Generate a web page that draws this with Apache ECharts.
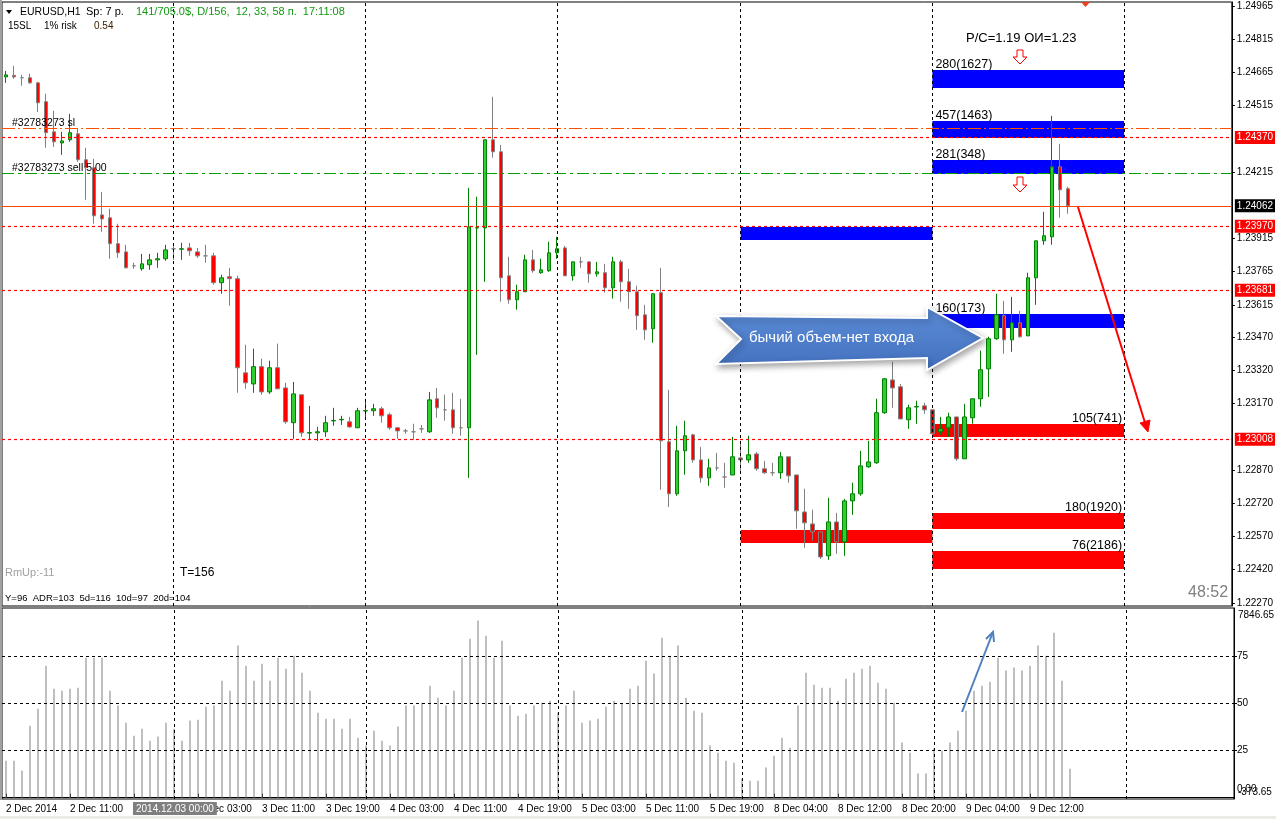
<!DOCTYPE html>
<html><head><meta charset="utf-8">
<script src="https://cdn.jsdelivr.net/npm/echarts@6/dist/echarts.min.js"></script>
<style>html,body{margin:0;padding:0;background:#fff}#c{width:1276px;height:819px}</style>
</head><body><div id="c"></div>
<script>
// ---- data ----
const sessionDays = [['2 Dec',3,23],['3 Dec',0,23],['4 Dec',0,23],['5 Dec',0,22],['8 Dec',0,23],['9 Dec',0,23],['10 Dec',0,13]];
const xTickLabels = ['2 Dec 2014','2 Dec 11:00','2 Dec 19:00','3 Dec 03:00','3 Dec 11:00','3 Dec 19:00','4 Dec 03:00','4 Dec 11:00','4 Dec 19:00','5 Dec 03:00','5 Dec 11:00','5 Dec 19:00','8 Dec 04:00','8 Dec 12:00','8 Dec 20:00','9 Dec 04:00','9 Dec 12:00'];
const priceTicks = [1.22270,1.22420,1.22570,1.22720,1.22870,1.23170,1.23320,1.23470,1.23615,1.23765,1.23915,1.24215,1.24515,1.24665,1.24815,1.24965];
const volTicks = [25,50,75];
const openP = [1.24644,1.24651,1.24640,1.24640,1.24617,1.24532,1.24396,1.24346,1.24360,1.24387,1.24270,1.24234,1.24021,1.24008,1.23891,1.23854,1.23791,1.23778,1.23796,1.23818,1.23823,1.23868,1.23866,1.23872,1.23854,1.23836,1.23836,1.23715,1.23742,1.23733,1.23308,1.23258,1.23336,1.23222,1.23331,1.23240,1.23083,1.23209,1.23036,1.23037,1.23042,1.23091,1.23096,1.23087,1.23060,1.23136,1.23137,1.23146,1.23119,1.23060,1.23046,1.23042,1.23055,1.23042,1.23191,1.23141,1.23141,1.23060,1.23060,1.23962,1.23962,1.24360,1.24306,1.23746,1.23638,1.23674,1.23818,1.23760,1.23769,1.23850,1.23872,1.23746,1.23809,1.23809,1.23755,1.23760,1.23692,1.23809,1.23719,1.23674,1.23570,1.23507,1.23670,1.22997,1.22762,1.22956,1.23028,1.22915,1.22834,1.22879,1.22838,1.22847,1.22924,1.22915,1.22942,1.22875,1.22857,1.22857,1.22929,1.22847,1.22680,1.22626,1.22590,1.22482,1.22635,1.22545,1.22730,1.22762,1.22884,1.22902,1.23128,1.23276,1.23245,1.23096,1.23154,1.23159,1.23141,1.23042,1.23060,1.23109,1.22920,1.23105,1.23191,1.23326,1.23462,1.23566,1.23457,1.23534,1.23475,1.23737,1.23904,1.23922,1.24238,1.24139];
const closeP = [1.24653,1.24644,1.24640,1.24617,1.24527,1.24392,1.24351,1.24355,1.24392,1.24270,1.24234,1.24017,1.24003,1.23891,1.23850,1.23782,1.23791,1.23800,1.23818,1.23823,1.23863,1.23868,1.23868,1.23859,1.23836,1.23836,1.23715,1.23737,1.23733,1.23331,1.23263,1.23336,1.23222,1.23331,1.23236,1.23087,1.23213,1.23037,1.23038,1.23042,1.23083,1.23093,1.23098,1.23064,1.23137,1.23137,1.23146,1.23114,1.23060,1.23046,1.23046,1.23042,1.23055,1.23186,1.23150,1.23141,1.23060,1.23060,1.23967,1.23963,1.24360,1.24306,1.23737,1.23638,1.23674,1.23818,1.23769,1.23773,1.23850,1.23868,1.23746,1.23809,1.23809,1.23755,1.23764,1.23692,1.23809,1.23719,1.23674,1.23566,1.23502,1.23665,1.23001,1.22762,1.22956,1.23024,1.22915,1.22834,1.22879,1.22879,1.22838,1.22929,1.22915,1.22938,1.22875,1.22857,1.22857,1.22929,1.22843,1.22685,1.22631,1.22590,1.22477,1.22635,1.22545,1.22730,1.22762,1.22888,1.22906,1.23128,1.23281,1.23240,1.23100,1.23150,1.23156,1.23141,1.23033,1.23055,1.23109,1.22920,1.23109,1.23191,1.23322,1.23462,1.23570,1.23457,1.23534,1.23471,1.23737,1.23904,1.23927,1.24238,1.24134,1.24062];
const lowP = [1.24617,1.24635,1.24604,1.24613,1.24486,1.24324,1.24328,1.24292,1.24351,1.24261,1.24089,1.23981,1.23945,1.23823,1.23827,1.23780,1.23778,1.23769,1.23773,1.23782,1.23814,1.23818,1.23818,1.23836,1.23827,1.23805,1.23706,1.23665,1.23611,1.23218,1.23236,1.23218,1.23209,1.23213,1.23234,1.23078,1.23010,1.23019,1.23006,1.23001,1.23019,1.23069,1.23073,1.23060,1.23059,1.23100,1.23114,1.23083,1.23051,1.23010,1.23033,1.23006,1.23037,1.23037,1.23105,1.23092,1.23033,1.23024,1.22834,1.23389,1.23719,1.24279,1.23629,1.23620,1.23593,1.23673,1.23760,1.23755,1.23764,1.23823,1.23745,1.23724,1.23782,1.23715,1.23742,1.23670,1.23643,1.23629,1.23597,1.23502,1.23457,1.23444,1.22780,1.22703,1.22753,1.22848,1.22902,1.22812,1.22798,1.22866,1.22789,1.22846,1.22866,1.22902,1.22866,1.22852,1.22843,1.22830,1.22812,1.22604,1.22518,1.22550,1.22468,1.22464,1.22491,1.22482,1.22667,1.22753,1.22879,1.22897,1.23123,1.23150,1.23099,1.23055,1.23078,1.23123,1.23032,1.23028,1.23019,1.22911,1.22919,1.23078,1.23155,1.23199,1.23457,1.23394,1.23403,1.23466,1.23474,1.23615,1.23886,1.23886,1.24008,1.24026];
const highP = [1.24671,1.24694,1.24653,1.24658,1.24622,1.24568,1.24491,1.24396,1.24477,1.24410,1.24324,1.24274,1.24125,1.24049,1.23981,1.23886,1.23805,1.23845,1.23845,1.23850,1.23886,1.23891,1.23895,1.23895,1.23872,1.23886,1.23850,1.23751,1.23782,1.23746,1.23435,1.23417,1.23372,1.23363,1.23440,1.23263,1.23267,1.23211,1.23159,1.23064,1.23114,1.23150,1.23114,1.23109,1.23150,1.23191,1.23168,1.23155,1.23128,1.23064,1.23055,1.23078,1.23073,1.23222,1.23240,1.23209,1.23218,1.23191,1.24143,1.24103,1.24361,1.24554,1.24337,1.23832,1.23706,1.23841,1.23863,1.23823,1.23900,1.23922,1.23881,1.23810,1.23832,1.23810,1.23809,1.23800,1.23832,1.23818,1.23778,1.23701,1.23615,1.23666,1.23782,1.23231,1.23069,1.23092,1.23033,1.22974,1.22920,1.22947,1.22902,1.23019,1.22997,1.23024,1.22951,1.22911,1.22902,1.22951,1.22930,1.22848,1.22785,1.22690,1.22591,1.22744,1.22676,1.22739,1.22812,1.22956,1.23001,1.23191,1.23285,1.23358,1.23258,1.23164,1.23182,1.23173,1.23142,1.23109,1.23128,1.23110,1.23168,1.23192,1.23408,1.23471,1.23665,1.23633,1.23651,1.23588,1.23760,1.23905,1.24035,1.24468,1.24342,1.24148];
const volume = [19.7,19.7,14.4,38.3,47.3,70.2,58,56.9,58,58.5,74.5,74.5,74.5,56.9,49,39.9,33,36.7,30.3,32.5,39.9,36.7,30.3,41,41.5,48.4,49,62.2,56.9,80.9,70.2,62.2,71.3,62.2,74.5,68.6,75.5,66.5,56.9,45.2,42,42,36.7,42,31.9,27.7,35.6,30.3,27.7,37.8,49,49,50.5,59.6,53.2,49,56.9,74.5,84.6,94.2,86.2,74.5,83.5,49,43.6,44.7,49,50.5,51.6,45.2,49,56.9,39.9,41,42,48.4,51.6,50,58,59.6,72.9,66,85.1,75.5,80.9,53.2,46.3,45.2,27.7,23.9,19.7,18.6,10.1,9,9,16,22.3,31.9,26.6,49,66.5,60.1,58.5,58.5,51.6,63.3,66.5,68.6,70.2,61.2,58,50.5,29.3,23.9,12.8,12.8,26.1,25,29.3,35.6,46.3,56.9,59.6,61.7,74.5,67.6,69.2,67.6,70.2,80.9,75.5,87.8,62.2,15.4];
const daySeparators = [21,45,69,92,116,140];
const levelValues = [1.24410,1.24370,1.24208,1.24062,1.23970,1.23681,1.23008];
const levelKinds  = ['sl','alert','sell','bid','alert','alert','alert'];
const zoneFrom   = [116,116,116,92,116,116,116,92,116];
const zoneTo     = [140,140,140,116,140,140,140,116,140];
const zoneTop    = [1.24675,1.24445,1.24269,1.23966,1.23574,1.23077,1.22675,1.22599,1.22504];
const zoneBottom = [1.24594,1.24368,1.24206,1.23908,1.23510,1.23018,1.22603,1.22540,1.22423];
const zoneText   = ['280(1627)','457(1463)','281(348)','','160(173)','105(741)','180(1920)','','76(2186)'];
const zoneSide   = ['buy','buy','buy','buy','buy','sell','sell','sell','sell'];

// ---- build ----
const cats = [];
for (const [d,h0,h1] of sessionDays) for (let h=h0; h<=h1; h++) cats.push(d+' '+String(h).padStart(2,'0')+':00');
const candleData = openP.map((o,i)=>[o, closeP[i], lowP[i], highP[i]]);
const F = '"Liberation Sans", Arial, sans-serif';

const levelStyle = {
  sl:    {color:'#FF5000', type:[13,3,2,3], label:false},
  alert: {color:'#FF0000', type:[3,3], label:'#FF0000'},
  sell:  {color:'#00A000', type:[12,4,3,4], label:false},
  bid:   {color:'#FF4500', type:'solid', label:'#000000'}
};
const levelSeries = levelValues.map((v,i)=>{
  const s = levelStyle[levelKinds[i]];
  return {type:'line', name:'level'+i, xAxisIndex:0, yAxisIndex:0, data:[], silent:true, z:5,
    markLine:{silent:true, symbol:['none','none'], z:5, precision:5, animation:false,
      lineStyle:{color:s.color, type:s.type, width:1.2},
      label: s.label ? {show:true, position:'end', distance:3, formatter:v.toFixed(5), color:'#fff',
        backgroundColor:s.label, padding:[2,2,1,2], fontSize:10, fontFamily:F} : {show:false},
      data:[{yAxis:v}]}};
});
const zones = zoneTop.map((t,i)=>{
  const right = zoneSide[i]==='sell';
  return [{name:zoneText[i], xAxis:cats[zoneFrom[i]], yAxis:t,
      itemStyle:{color: right ? '#FF0000' : '#0000FF', opacity:1},
      label:{show:!!zoneText[i], position: right ? ['100%',1] : [3,1], align: right ? 'right':'left',
        offset: right ? [-2,0] : [0,0], verticalAlign:'bottom', color:'#000', fontSize:12.5, fontFamily:F}},
    {xAxis:cats[zoneTo[i]], yAxis:zoneBottom[i]}];
});

const chart = echarts.init(document.getElementById('c'));
const txt = (x,y,t,opt={}) => ({type:'text', x, y, z:70, style:Object.assign({text:t, fill:'#000', font:'10px '+F, textVerticalAlign:'middle'}, opt)});

chart.setOption({
  animation:false,
  backgroundColor:'#fff',
  grid:[
    {left:2, top:2, width:1232, height:604, show:true, borderColor:'#000', borderWidth:1, backgroundColor:'#fff'},
    {left:2, top:608, width:1232, height:191, show:true, borderColor:'#000', borderWidth:1, backgroundColor:'#fff'}
  ],
  xAxis:[
    {type:'category', gridIndex:0, data:cats, boundaryGap:true, axisLine:{show:false}, axisTick:{show:false}, axisLabel:{show:false}, splitLine:{show:false}},
    {type:'category', gridIndex:1, data:cats, boundaryGap:true,
      axisLine:{show:true, lineStyle:{color:'#000'}},
      axisTick:{show:true, inside:true, length:4, alignWithLabel:true, interval:(i)=>i%8===0 && i<=128, lineStyle:{color:'#000'}},
      axisLabel:{show:true, interval:(i)=>i%8===0 && i<=128, formatter:(v,i)=>xTickLabels[i/8]||'', align:'left', margin:5, color:'#000', fontSize:10, fontFamily:F},
      splitLine:{show:false}}
  ],
  yAxis:[
    {type:'value', gridIndex:0, position:'right', min:1.222555, max:1.24982,
      axisLine:{show:true, lineStyle:{color:'#000'}},
      axisTick:{show:true, length:3, customValues:priceTicks, lineStyle:{color:'#000'}},
      axisLabel:{show:true, customValues:priceTicks, formatter:(v)=>v.toFixed(5), color:'#000', fontSize:10, fontFamily:F, margin:5},
      splitLine:{show:false}},
    {type:'value', gridIndex:1, position:'right', min:-0.7, max:100.9,
      axisLine:{show:true, lineStyle:{color:'#000'}},
      axisTick:{show:true, length:3, customValues:volTicks, lineStyle:{color:'#000'}},
      axisLabel:{show:true, customValues:volTicks, formatter:(v)=>String(v), color:'#000', fontSize:10, fontFamily:F, margin:3},
      splitLine:{show:false}}
  ],
  series:[
    {type:'candlestick', name:'EURUSD', xAxisIndex:0, yAxisIndex:0, data:candleData, barWidth:4, z:3,
      itemStyle:{color:'#32CD32', color0:'#FF0000', borderColor:'#008000', borderColor0:'#808080', borderColorDoji:'#808080', borderWidth:1},
      markArea:{silent:true, z:1, data:zones},
      markLine:{silent:true, symbol:['none','none'], z:4, label:{show:false}, lineStyle:{color:'#000', type:[3,3], width:1},
        data: daySeparators.map(i=>({xAxis:cats[i]}))}
    },
    ...levelSeries,
    {type:'bar', name:'Volume', xAxisIndex:1, yAxisIndex:1, data:volume, barWidth:1, itemStyle:{color:'#808080'}, z:3,
      markLine:{silent:true, symbol:['none','none'], z:5, label:{show:false}, lineStyle:{color:'#000', type:[3,3], width:1}, data:[
        ...daySeparators.map(i=>({xAxis:cats[i]})),
        ...volTicks.map(v=>({yAxis:v}))]}
    }
  ],
  graphic:[
    {type:'rect', shape:{x:0,y:0,width:2,height:800}, style:{fill:'#A0A0A0'}, z:40},
    {type:'rect', shape:{x:0,y:816,width:1276,height:3}, style:{fill:'#ECECE4'}, z:40},
    {type:'polygon', shape:{points:[[6,10],[12,10],[9,14]]}, style:{fill:'#000'}, z:50},
    txt(20,12,'EURUSD,H1',{font:'10.5px '+F}), txt(86,12,'Sp: 7 р.', {font:'11px '+F}),
    txt(136,12,'141/705.0$, D/156,  12, 33, 58 п.  17:11:08', {fill:'#119A11', font:'11px '+F}),
    txt(8,26,'15SL',{font:'10px '+F}), txt(44,26,'1% risk',{font:'10px '+F}), txt(94,26,'0.54',{font:'10px '+F, fill:'#402000'}),
    txt(12,123,'#32783273 sl',{font:'10.5px '+F}),
    txt(12,168,'#32783273 sell 5.00',{font:'10.5px '+F}),
    txt(5,573,'RmUp:-11',{fill:'#A0A0A0', font:'11px '+F}),
    txt(180,573,'T=156',{font:'12px '+F}),
    txt(5,598,'Y=96  ADR=103  5d=116  10d=97  20d=104',{font:'9.5px '+F}),
    txt(1188,593,'48:52',{fill:'#808080', font:'16px '+F}),
    txt(966,38,'P/C=1.19 ОИ=1.23',{font:'13px '+F}),
    {type:'polygon', shape:{points:[[1017,50],[1023,50],[1023,57],[1027,57],[1020,64],[1013,57],[1017,57]]}, style:{fill:'#fff', stroke:'#FF0000', lineWidth:1}, z:50},
    {type:'polygon', shape:{points:[[1017,177],[1023,177],[1023,185],[1027,185],[1020,192],[1013,185],[1017,185]]}, style:{fill:'#fff', stroke:'#FF0000', lineWidth:1}, z:50},
    {type:'polygon', shape:{points:[[1081,2],[1090,2],[1085.5,7]]}, style:{fill:'#E8401C'}, z:50},
    {type:'polygon', shape:{points:[[716,316],[927,318],[927,307],[983,338],[927,370],[927,358],[716,364],[741,339]]},
      style:{fill:{type:'linear',x:0,y:0,x2:0,y2:1,colorStops:[{offset:0,color:'#5C8DD8'},{offset:1,color:'#4370BE'}]},
        stroke:'#FFFFFF', lineWidth:2, shadowBlur:6, shadowOffsetX:2, shadowOffsetY:3, shadowColor:'rgba(0,0,0,0.35)'}, z:60},
    txt(749,338,'бычий объем-нет входа',{fill:'#fff', font:'15px '+F}),
    {type:'line', shape:{x1:1078,y1:207,x2:1146,y2:426}, style:{stroke:'#FF0000', lineWidth:2}, z:60},
    {type:'polygon', shape:{points:[[1148,432],[1150,420],[1140,423]]}, style:{fill:'#FF0000', stroke:'#FF0000'}, z:60},
    {type:'line', shape:{x1:962,y1:712,x2:993,y2:632}, style:{stroke:'#4F81BD', lineWidth:2}, z:60},
    {type:'polyline', shape:{points:[[986,639],[993,632],[994,642]]}, style:{stroke:'#4F81BD', lineWidth:2, fill:null}, z:60},
    txt(1238,615,'7846.65'),
    txt(1238,792,'-373.65'),
    txt(1237,789,'0.00'),
    {type:'text', x:133, y:802, z:70, style:{text:'2014.12.03 00:00', fill:'#fff', backgroundColor:'#7F7F7F', padding:[2,3,1,3], font:'10px '+F}}
  ]
});
</script></body></html>
